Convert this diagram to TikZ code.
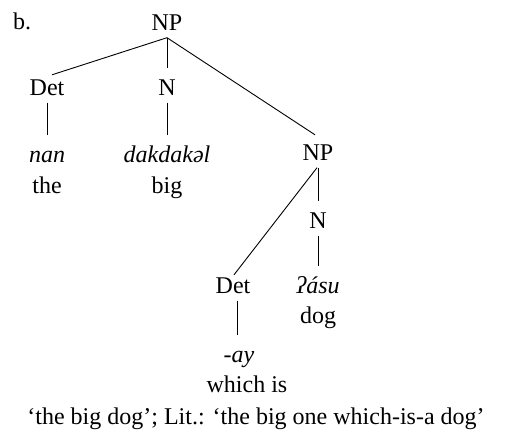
\documentclass[tikz,border=0pt]{standalone}
\usepackage{fontspec}
\setmainfont{Liberation Serif}
\begin{document}
\begin{tikzpicture}[x=1pt,y=-1pt,
  lab/.style={anchor=base, inner sep=0pt, text height=27pt, text depth=7.5pt,
              font=\fontsize{24}{28}\selectfont},
  edge/.style={line width=0.9pt}]
\useasboundingbox (0,0) rectangle (506,440);
\node[lab, anchor=base west] (b) at (13,29) {b.};
\node[lab] (np1) at (167,30) {NP};
\node[lab] (det1) at (47,95) {Det};
\node[lab] (n1) at (167,95) {N};
\node[lab] (nan) at (47,162) {\itshape nan};
\node[lab] (the) at (47,193) {the};
\node[lab] (dak) at (167,162) {\itshape dakdakəl};
\node[lab] (big) at (167,193) {big};
\node[lab] (np2) at (318,160) {NP};
\node[lab] (n2) at (318,228) {N};
\node[lab] (asu) at (318,293) {\itshape ʔásu};
\node[lab] (dog) at (318,323) {dog};
\node[lab] (det2) at (233,293) {Det};
\node[lab] (ay) at (239,362) {\itshape -ay};
\node[lab] (which) at (247,392) {which is};
\node[lab] (cap) at (256,424) {‘the big dog’; Lit.: ‘the big one which-is-a dog’};
\draw[edge] (np1.south) -- ([shift={(5pt,-7pt)}]det1.north);
\draw[edge] (np1.south) -- (n1.north);
\draw[edge] (np1.south) -- ([shift={(-3pt,-2pt)}]np2.north);
\draw[edge] (det1.south) -- (nan.north);
\draw[edge] (n1.south) -- (dak.north);
\draw[edge] (np2.south) -- (n2.north);
\draw[edge] ([xshift=-1pt]np2.south) -- ([shift={(1pt,-9pt)}]det2.north);
\draw[edge] (n2.south) -- (asu.north);
\draw[edge] ([xshift=4pt]det2.south) -- ([xshift=-2pt]ay.north);
\end{tikzpicture}
\end{document}
